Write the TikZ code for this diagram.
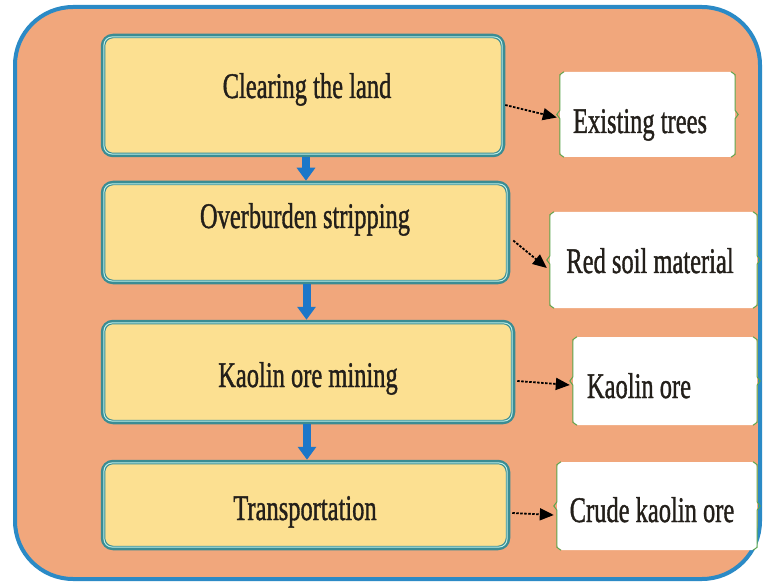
\documentclass[tikz,border=0pt]{standalone}
\usepackage{fontspec}
\setmainfont{Liberation Serif}
\newfontfamily\diagserif[FakeBold=1.3]{Liberation Serif}
\usetikzlibrary{arrows.meta}
\definecolor{outerfill}{HTML}{F1A77C}
\definecolor{outerline}{HTML}{2B8AC6}
\definecolor{yfill}{HTML}{FCE091}
\definecolor{yline}{HTML}{3A8C93}
\definecolor{yinner}{HTML}{BDEFE6}
\definecolor{barrow}{HTML}{1C77C9}
\definecolor{gline}{HTML}{5CA64E}
\definecolor{txtc}{HTML}{231F1A}
\newcommand\sqz[1]{\scalebox{0.68}[1]{#1}}
\begin{document}
\begin{tikzpicture}[x=1pt,y=1pt,
  ybox/.style={draw=yline,line width=4.5pt,fill=yfill,rounded corners=10pt,inner sep=0pt},
  wbox/.style={fill=white,rounded corners=5pt,inner sep=0pt},
  lbl/.style={anchor=base,inner sep=0pt,text=txtc,font=\diagserif\fontsize{36}{40}\selectfont},
  barr/.style={draw=barrow,line width=8pt,-{Triangle[width=18pt,length=13pt]}},
  darr/.style={draw=black,line width=1.8pt,dash pattern=on 2.5pt off 1.5pt,-{Triangle[width=12pt,length=14pt]}},
  bracket/.style={draw=gline,line width=1pt}
]
\useasboundingbox (0,0) rectangle (763,582);
\fill[white] (0,0) rectangle (763,582);
% outer container
\draw[draw=outerline,line width=4pt,fill=outerfill,rounded corners=58pt] (15,3) rectangle (760,575);
% yellow step boxes (image y converted: Y = 582 - y)
\node[ybox,minimum width=400pt,minimum height=119pt] (b1) at (303,486.5) {};
\node[ybox,minimum width=405pt,minimum height=99pt] (b2) at (305.5,349.5) {};
\node[ybox,minimum width=410pt,minimum height=100pt] (b3) at (308,210) {};
\node[ybox,minimum width=405pt,minimum height=86pt] (b4) at (305.5,77) {};
\foreach \b in {b1,b2,b3,b4}{
  \draw[yinner,line width=1pt,rounded corners=8pt]
    ([shift={(3.2pt,-3.2pt)}]\b.north west) rectangle ([shift={(-3.2pt,3.2pt)}]\b.south east);
}
% step labels
\node[lbl] (t1) at (307,484) {\sqz{Clearing the land}};
\node[lbl] (t2) at (305,354) {\sqz{Overburden stripping}};
\node[lbl] (t3) at (308,195) {\sqz{Kaolin ore mining}};
\node[lbl] (t4) at (305,62) {\sqz{Transportation}};
% white output boxes
\node[wbox,minimum width=175pt,minimum height=85pt] (w1) at (647.5,467.5) {};
\node[wbox,minimum width=207pt,minimum height=96pt] (w2) at (653.5,322) {};
\node[wbox,minimum width=184pt,minimum height=88pt] (w3) at (665,201) {};
\node[wbox,minimum width=200pt,minimum height=88pt] (w4) at (657,76) {};
\foreach \w in {w1,w2,w3,w4}{
  \draw[bracket] ([xshift=4pt]\w.north west) -- ([yshift=-3pt]\w.north west) -- ([yshift=4pt]\w.west) -- ([xshift=-3pt]\w.west) -- ([yshift=-4pt]\w.west) -- ([yshift=3pt]\w.south west) -- ([xshift=4pt]\w.south west);
  \draw[bracket] ([xshift=-4pt]\w.north east) -- ([yshift=-3pt]\w.north east) -- ([yshift=4pt]\w.east) -- ([xshift=3pt]\w.east) -- ([yshift=-4pt]\w.east) -- ([yshift=3pt]\w.south east) -- ([xshift=-4pt]\w.south east);
}
\node[lbl] (o1) at (640,449) {\sqz{Existing trees}};
\node[lbl] (o2) at (650,309) {\sqz{Red soil material}};
\node[lbl] (o3) at (639,184) {\sqz{Kaolin ore}};
\node[lbl] (o4) at (652,60) {\sqz{Crude kaolin ore}};
% blue flow arrows
\draw[barr] ([xshift=3pt]b1.south) -- ([xshift=3pt]b1.south |- b2.north);
\draw[barr] ([xshift=1pt]b2.south) -- ([xshift=1pt]b2.south |- b3.north);
\draw[barr] ([xshift=-1pt]b3.south) -- ([xshift=-1pt]b3.south |- b4.north);
% dashed output arrows
\draw[darr] ([yshift=-9.5pt]b1.east) -- ([yshift=-3pt,xshift=-3pt]w1.west);
\draw[darr] ([yshift=-8pt,xshift=3pt]b2.east) -- ([yshift=-8pt,xshift=-3pt]w2.west);
\draw[darr] ([yshift=-9pt,xshift=2pt]b3.east) -- ([yshift=-4pt,xshift=-3pt]w3.west);
\draw[darr] ([yshift=-8pt,xshift=2pt]b4.east) -- ([yshift=-9pt,xshift=-3pt]w4.west);
\end{tikzpicture}
\end{document}
